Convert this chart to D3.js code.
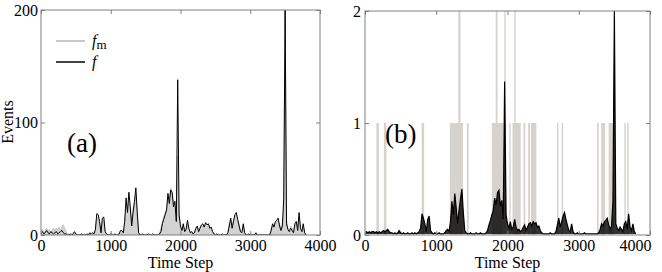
<!DOCTYPE html>
<html>
<head>
<meta charset="utf-8">
<script src="https://cdn.jsdelivr.net/npm/d3@7"></script>
<style>
    body { margin: 0; background: #fff; }
    .tick text { font-family: "Liberation Serif", serif; font-size: 16px; fill: #000; }
    .tick line { stroke: #808080; }
    .label { font-family: "Liberation Serif", serif; font-size: 16px; fill: #000; }
    .tag { font-family: "Liberation Serif", serif; font-size: 27px; fill: #000; }
</style>
</head>
<body>
<script>

//series are sampled every 20 time steps, one row = 200 steps
var sampleStep = 20;

//panel (a): raw event counts f
var fValues = [
    2,3,1,2,4,2,1,3,2,1,
    2,3,1,2,3,4,2,1,1,0,
    0,1,0,1,3,1,0,0,0,1,
    0,0,0,1,0,2,1,2,1,5,
    19,18,12,2,15,16,3,1,0,0,
    1,0,0,1,0,0,1,4,4,2,
    12,33,20,38,25,8,20,30,42,20,
    2,0,0,1,0,0,0,1,0,0,
    1,0,0,0,0,1,3,10,14,18,
    22,37,28,40,38,25,30,12,138,18,
    8,4,10,3,5,13,6,2,3,1,
    2,6,8,3,6,9,10,7,11,9,
    10,6,7,3,1,0,1,0,0,0,
    1,0,0,0,2,8,15,6,12,18,
    20,14,8,3,2,10,2,0,0,1,
    0,0,0,0,2,0,0,0,0,0,
    0,0,0,0,0,4,10,7,12,13,
    15,8,4,8,32,200,10,5,3,6,
    4,2,10,12,4,20,6,3,10,2,
    0
];

//panel (a): f_m
var fmValues = [
    3,5,2,4,6,3,5,2,4,6,
    4,6,5,7,4,8,9,6,3,1,
    1,0,1,0,2,1,0,0,1,0,
    0,1,0,0,1,1,0,1,2,4,
    14,16,10,4,12,13,2,1,0,0,
    0,1,0,0,0,1,0,3,3,1,
    10,28,24,30,22,12,24,28,36,16,
    1,0,1,0,0,1,0,0,1,0,
    0,1,0,0,1,2,6,12,16,20,
    24,34,32,42,36,28,26,16,70,14,
    6,5,8,4,6,10,5,3,2,2,
    3,5,7,4,7,8,9,8,9,8,
    8,5,6,3,1,0,0,1,0,0,
    0,0,1,0,3,10,13,8,14,16,
    18,12,10,4,3,8,2,0,1,0,
    0,0,1,0,1,0,0,0,0,0,
    0,0,0,0,1,6,8,9,11,12,
    13,10,6,9,22,200,14,6,4,8,
    6,3,9,11,6,16,5,4,8,2,
    0
];

//panel (b): scaled f
var fScaledValues = [
    .02,.03,.02,.03,.02,.03,.03,.02,.03,.02,
    .03,.02,.03,.04,.03,.04,.05,.03,.02,.02,
    .01,.02,.01,.02,.04,.02,.01,.02,.01,.01,
    .02,.01,.01,.02,.01,.02,.01,.02,.03,.06,
    .19,.15,.10,.03,.14,.17,.04,.02,.01,.02,
    .01,.01,.02,.01,.01,.01,.02,.04,.05,.03,
    .12,.30,.18,.37,.24,.10,.22,.32,.41,.20,
    .04,.02,.01,.01,.02,.01,.01,.01,.02,.01,
    .01,.02,.01,.01,.01,.02,.04,.09,.13,.18,
    .22,.33,.27,.38,.40,.26,.31,.14,1.37,.18,
    .10,.06,.12,.05,.07,.14,.07,.04,.05,.03,
    .04,.07,.09,.04,.07,.10,.11,.08,.12,.10,
    .11,.07,.08,.04,.02,.01,.01,.01,.01,.01,
    .02,.01,.01,.01,.03,.09,.15,.07,.12,.17,
    .20,.14,.09,.04,.03,.10,.03,.01,.01,.02,
    .01,.01,.01,.01,.02,.01,.01,.01,.01,.01,
    .01,.01,.01,.01,.02,.05,.10,.08,.12,.13,
    .15,.09,.05,.08,.30,2.0,.10,.06,.04,.07,
    .05,.03,.10,.12,.05,.19,.07,.04,.10,.03,
    .01
];

//panel (b): f_m bands [start step, end step, level]
var fmBands = [
    [160,195,1],[265,300,1],[795,830,1],[1190,1375,1],[1310,1340,2],
    [1430,1455,1],[1780,1945,1],[1835,1860,2],[1955,1975,2],[2025,2045,1],
    [2070,2185,1],[2095,2115,2],[2225,2250,1],[2290,2315,1],[2330,2405,1],
    [2695,2715,1],[2760,2780,1],[3255,3280,1],[3315,3370,1],[3420,3500,1],
    [3640,3660,1],[3680,3700,1]
];

var xTicks = [0, 1000, 2000, 3000, 4000];
var yTicksA = [0, 100, 200];
var yTicksB = [0, 1, 2];

window.onload = function() {
    drawChart();
};

function drawChart() {

    var width = 662,
        height = 272;

    var svg = d3.select("body")
        .append("svg")
        .attr("width", width)
        .attr("height", height);

    var line = function(xs, ys) {
        return d3.line()
            .x(function(d, i) { return xs(i * sampleStep); })
            .y(function(d) { return ys(d); });
    };

    //panel (a)
    var a = setPanel(svg, "a", [41, 320], [235, 10], [0, 200], yTicksA, 3);

    var fmArea = d3.area()
        .x(function(d, i) { return a.x(i * sampleStep); })
        .y0(a.y(0))
        .y1(function(d) { return a.y(d); });

    a.plot.append("path")
        .datum(fmValues)
        .attr("d", fmArea)
        .attr("fill", "#d2d2d2")
        .attr("stroke", "#bcbcbc")
        .attr("stroke-width", 0.8);

    a.plot.append("path")
        .datum(fValues)
        .attr("d", line(a.x, a.y))
        .attr("fill", "none")
        .attr("stroke", "#000")
        .attr("stroke-width", 1);

    //legend
    var legend = svg.append("g");
    legend.append("line")
        .attr("x1", 56).attr("x2", 85).attr("y1", 41).attr("y2", 41)
        .attr("stroke", "#c8c8c8").attr("stroke-width", 2);
    legend.append("line")
        .attr("x1", 56).attr("x2", 85).attr("y1", 62).attr("y2", 62)
        .attr("stroke", "#000").attr("stroke-width", 1.5);
    var fmText = legend.append("text")
        .attr("class", "label")
        .attr("font-size", 18)
        .attr("x", 92).attr("y", 46);
    fmText.append("tspan").attr("font-style", "italic").text("f");
    fmText.append("tspan").attr("dy", 3).attr("font-size", 13).text("m");
    legend.append("text")
        .attr("class", "label")
        .attr("font-size", 18)
        .attr("font-style", "italic")
        .attr("x", 92).attr("y", 67)
        .text("f");

    svg.append("text")
        .attr("class", "tag")
        .attr("x", 67).attr("y", 152)
        .text("(a)");

    svg.append("text")
        .attr("class", "label")
        .attr("text-anchor", "middle")
        .attr("transform", "translate(13,122) rotate(-90)")
        .text("Events");

    //panel (b)
    var b = setPanel(svg, "b", [365, 650], [235, 11], [0, 2], yTicksB, 4);

    b.plot.selectAll(".band")
        .data(fmBands)
        .enter()
        .append("rect")
        .attr("class", "band")
        .attr("x", function(d) { return b.x(d[0]); })
        .attr("width", function(d) { return b.x(d[1]) - b.x(d[0]); })
        .attr("y", function(d) { return b.y(d[2]); })
        .attr("height", function(d) { return b.y(0) - b.y(d[2]); })
        .attr("fill", "#d6d2ce");

    var fArea = d3.area()
        .x(function(d, i) { return b.x(i * sampleStep); })
        .y0(b.y(0.01))
        .y1(function(d) { return b.y(d); });

    b.plot.append("path")
        .datum(fScaledValues)
        .attr("d", fArea)
        .attr("fill", "#000")
        .attr("fill-opacity", 0.8);

    b.plot.append("path")
        .datum(fScaledValues)
        .attr("d", line(b.x, b.y))
        .attr("fill", "none")
        .attr("stroke", "#000")
        .attr("stroke-width", 1.2);

    svg.append("text")
        .attr("class", "tag")
        .attr("x", 385).attr("y", 143)
        .text("(b)");

    //last label of panel (b) sits inside the frame edge
    svg.selectAll(".xaxis-b .tick:last-of-type text")
        .attr("text-anchor", "end")
        .attr("x", 1);
};

//frame, scales and axes for one panel
function setPanel(svg, id, xr, yr, ydom, yticks, ypad) {
    var x = d3.scaleLinear().domain([0, 4000]).range(xr),
        y = d3.scaleLinear().domain(ydom).range(yr);

    svg.append("clipPath")
        .attr("id", "clip-" + id)
        .append("rect")
        .attr("x", xr[0]).attr("y", yr[1])
        .attr("width", xr[1] - xr[0]).attr("height", yr[0] - yr[1]);

    var plot = svg.append("g").attr("clip-path", "url(#clip-" + id + ")");

    //inward ticks on all four sides
    svg.append("g")
        .attr("class", "xaxis-" + id)
        .attr("transform", "translate(0," + yr[0] + ")")
        .call(d3.axisBottom(x).tickValues(xTicks).tickSize(-4).tickPadding(5).tickFormat(d3.format("d")))
        .call(function(g) { g.select(".domain").remove(); });
    svg.append("g")
        .attr("transform", "translate(0," + yr[1] + ")")
        .call(d3.axisTop(x).tickValues(xTicks).tickSize(-4).tickFormat(""))
        .call(function(g) { g.select(".domain").remove(); });
    svg.append("g")
        .attr("transform", "translate(" + xr[0] + ",0)")
        .call(d3.axisLeft(y).tickValues(yticks).tickSize(-4).tickPadding(ypad).tickFormat(d3.format("d")))
        .call(function(g) { g.select(".domain").remove(); });
    svg.append("g")
        .attr("transform", "translate(" + xr[1] + ",0)")
        .call(d3.axisRight(y).tickValues(yticks).tickSize(-4).tickFormat(""))
        .call(function(g) { g.select(".domain").remove(); });

    svg.append("rect")
        .attr("x", xr[0]).attr("y", yr[1])
        .attr("width", xr[1] - xr[0]).attr("height", yr[0] - yr[1])
        .attr("fill", "none")
        .attr("stroke", "#808080")
        .attr("stroke-width", 1);

    svg.append("text")
        .attr("class", "label")
        .attr("text-anchor", "middle")
        .attr("x", (xr[0] + xr[1]) / 2).attr("y", 268)
        .text("Time Step");

    return { x: x, y: y, plot: plot };
};

</script>
</body>
</html>
